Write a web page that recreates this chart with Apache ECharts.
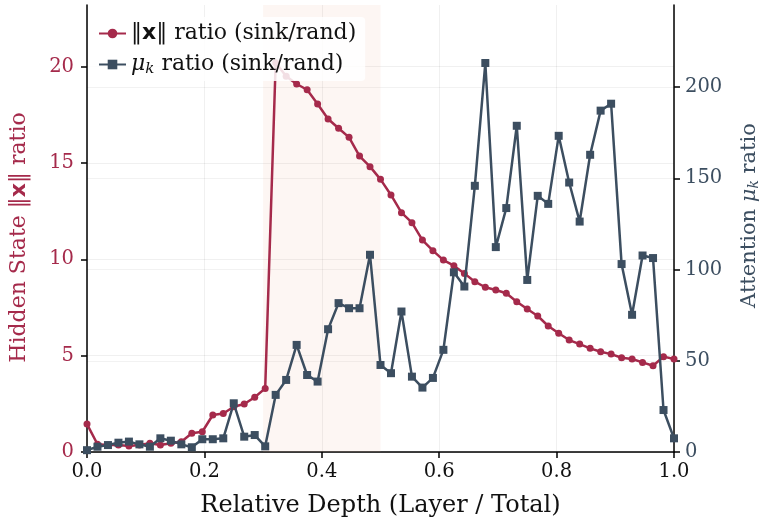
<!DOCTYPE html>
<html>
<head>
<meta charset="utf-8">
<script src="https://cdn.jsdelivr.net/npm/echarts@6/dist/echarts.min.js"></script>
<style>
  html, body { margin: 0; padding: 0; background: #fff; }
  #chart { width: 773px; height: 528px; }
</style>
</head>
<body>
<div id="chart"></div>
<script>
// relative depth = layer / 56
var layerCount = 57;
var normRatio = [1.45, 0.4, 0.36, 0.36, 0.31, 0.36, 0.45, 0.36, 0.45, 0.53,
  0.97, 1.05, 1.92, 2.0, 2.35, 2.49, 2.84, 3.3, 20.2, 19.5,
  19.1, 18.8, 18.06, 17.28, 16.8, 16.33, 15.36, 14.81, 14.15, 13.34,
  12.42, 11.9, 11.0, 10.45, 9.96, 9.67, 9.27, 8.84, 8.55, 8.41,
  8.24, 7.8, 7.42, 7.06, 6.54, 6.16, 5.81, 5.6, 5.38, 5.2,
  5.08, 4.89, 4.83, 4.65, 4.48, 4.95, 4.83];
var muRatio = [1, 2.9, 3.8, 5.1, 5.7, 4.2, 2.9, 7.5, 6.2, 4.2,
  2.6, 7.0, 7.0, 7.5, 26.7, 8.4, 9.3, 3.1, 31.3, 39.5,
  58.7, 42.2, 38.6, 67.3, 81.6, 78.8, 78.8, 108.1, 47.7, 43.2,
  77.0, 41.3, 35.3, 40.6, 56.0, 98.5, 90.7, 145.9, 213.2, 112.3,
  133.7, 178.8, 94.3, 140.4, 136.0, 173.3, 147.7, 126.3, 162.9, 187.1,
  190.9, 103.0, 75.2, 107.7, 106.3, 23.0, 7.5];
var sinkBand = [0.3, 0.5];
var leftTicks = [0, 5, 10, 15, 20];
var rightTicks = [0, 50, 100, 150, 200];

var red = '#A52A4B';
var slate = '#3C4E60';
var font = 'DejaVu Serif';
var tickSize = 19.5;
var titleSize = 22;

function pairs(vals) {
  return vals.map(function (v, i) { return [i / (layerCount - 1), v]; });
}

var chart = echarts.init(document.getElementById('chart'));
chart.setOption({
  animation: false,
  backgroundColor: '#fff',
  textStyle: { fontFamily: font },
  grid: { left: 85, right: 99, top: 5, bottom: 76 },
  legend: {
    left: 88, top: 17, orient: 'vertical',
    itemWidth: 27, itemHeight: 12, itemGap: 6,
    backgroundColor: 'rgba(255,255,255,0.85)',
    borderRadius: 4, padding: [4, 9, 4, 10],
    textStyle: {
      fontFamily: font, fontSize: 22, color: '#111', lineHeight: 25,
      rich: {
        n: { fontFamily: font, fontSize: 22, color: '#111', lineHeight: 25 },
        b: { fontFamily: 'DejaVu Sans', fontWeight: 'bold', fontSize: 22, color: '#111', lineHeight: 25 },
        i: { fontFamily: font, fontStyle: 'italic', fontSize: 22, color: '#111', lineHeight: 25 },
        s: { fontFamily: font, fontStyle: 'italic', fontSize: 15, color: '#111', padding: [9, 0, 0, 0] }
      }
    },
    formatter: function (name) {
      if (name === 'norm') return '{n|‖}{b|x}{n|‖ ratio (sink/rand)}';
      return '{i|μ}{s|k}{n| ratio (sink/rand)}';
    },
    data: ['norm', 'mu']
  },
  xAxis: {
    type: 'value', min: 0, max: 1, interval: 0.2,
    name: 'Relative Depth (Layer / Total)', nameLocation: 'middle', nameGap: 42,
    nameTextStyle: { fontFamily: font, fontSize: 24, color: '#111' },
    axisLine: { lineStyle: { color: '#000', width: 1.5 } },
    axisTick: { length: 6, lineStyle: { color: '#000', width: 1.5 } },
    axisLabel: { fontFamily: font, fontSize: tickSize, color: '#111', margin: 10,
      formatter: function (v) { return v.toFixed(1); } },
    splitLine: { show: true, lineStyle: { color: 'rgba(0,0,0,0.06)', width: 1 } }
  },
  yAxis: [{
    type: 'value', min: 0, max: 23.2, position: 'left',
    name: 'Hidden State ‖{b|x}‖ ratio', nameLocation: 'middle', nameGap: 57, nameRotate: 90,
    nameTextStyle: { fontFamily: font, fontSize: titleSize, color: red, padding: [0, 18, 0, 0],
      rich: { b: { fontFamily: 'DejaVu Sans', fontWeight: 'bold', fontSize: titleSize, color: red } } },
    axisLine: { show: true, lineStyle: { color: '#000', width: 1.5 } },
    axisTick: { show: true, length: 6, customValues: leftTicks, lineStyle: { color: '#000', width: 1.5 } },
    axisLabel: { fontFamily: font, fontSize: tickSize, color: red, margin: 13, customValues: leftTicks },
    splitLine: { show: true, lineStyle: { color: 'rgba(0,0,0,0.06)', width: 1 } }
  }, {
    type: 'value', min: 0, max: 245, position: 'right',
    name: 'Attention {i|μ}{s|k} ratio', nameLocation: 'middle', nameGap: 64, nameRotate: 90,
    nameTextStyle: { fontFamily: font, fontSize: 21, color: slate, padding: [0, 0, 0, 26],
      rich: {
        i: { fontFamily: font, fontStyle: 'italic', fontSize: 21, color: slate },
        s: { fontFamily: font, fontStyle: 'italic', fontSize: 14, color: slate, padding: [9, 0, 0, 0] }
      } },
    axisLine: { show: true, lineStyle: { color: '#000', width: 1.5 } },
    axisTick: { show: true, length: 6, customValues: rightTicks, lineStyle: { color: '#000', width: 1.5 } },
    axisLabel: { fontFamily: font, fontSize: tickSize, color: slate, margin: 11, customValues: rightTicks },
    splitLine: { show: true, lineStyle: { color: 'rgba(0,0,0,0.05)', width: 1 } }
  }],
  series: [{
    name: 'norm', type: 'line', yAxisIndex: 0,
    data: pairs(normRatio),
    symbol: 'circle', symbolSize: 7,
    lineStyle: { color: red, width: 2.5 },
    itemStyle: { color: red },
    z: 3,
    markArea: {
      silent: true,
      itemStyle: { color: 'rgba(235,170,150,0.11)' },
      data: [[{ xAxis: sinkBand[0] }, { xAxis: sinkBand[1] }]]
    }
  }, {
    name: 'mu', type: 'line', yAxisIndex: 1,
    data: pairs(muRatio),
    symbol: 'rect', symbolSize: 8,
    lineStyle: { color: slate, width: 2.5 },
    itemStyle: { color: slate },
    z: 4
  }]
});
</script>
</body>
</html>
